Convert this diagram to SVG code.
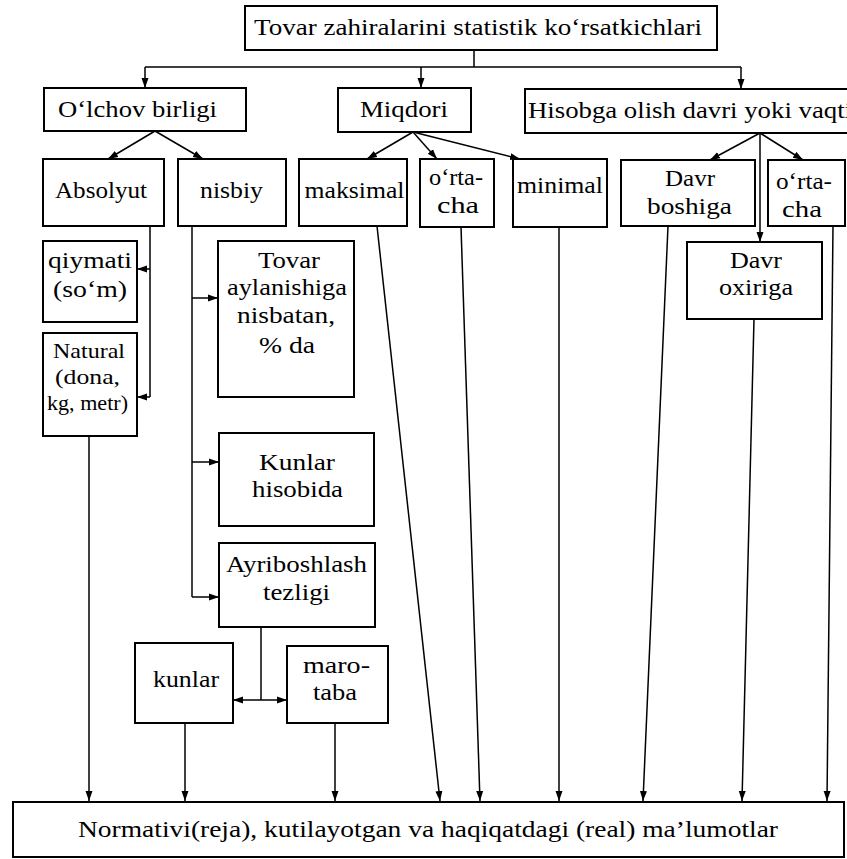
<svg xmlns="http://www.w3.org/2000/svg" width="847" height="859" viewBox="0 0 847 859">
  <defs>
    <marker id="arr" markerUnits="userSpaceOnUse" markerWidth="10" markerHeight="10" viewBox="0 0 10 10" refX="10" refY="5" orient="auto-start-reverse">
      <path d="M0,1.5 L10,5 L0,8.5 Z" fill="#000"/>
    </marker>
  </defs>
  <style>
    .box { fill: #fff; stroke: #000; stroke-width: 2; }
    .t { font-family: "Liberation Serif", "Times New Roman", serif; font-size: 24px; fill: #000; text-anchor: middle; }
    .sm { font-size: 22px; }
    .ln { fill: none; stroke: #000; stroke-width: 1.5; }
    .ar { fill: none; stroke: #000; stroke-width: 1.5; marker-end: url(#arr); }
    .ar2 { fill: none; stroke: #000; stroke-width: 1.5; marker-start: url(#arr); marker-end: url(#arr); }
  </style>
  <rect width="847" height="859" fill="#fff"/>

  <!-- connectors -->
  <g id="connectors">
    <path class="ln" d="M474 50 V67 M145 67 H741"/>
    <path class="ar" d="M145 67 V88"/>
    <path class="ar" d="M421 67 V88"/>
    <path class="ar" d="M741 67 V89"/>

    <path class="ar" d="M155 131 L108 159"/>
    <path class="ar" d="M155 131 L203 159"/>

    <path class="ar" d="M413 132 L367 159"/>
    <path class="ar" d="M413 132 L437 159"/>
    <path class="ar" d="M413 132 L520 159"/>

    <path class="ar" d="M760 133 L710 160"/>
    <path class="ar" d="M760 133 L760 242"/>
    <path class="ar" d="M760 133 L803 160"/>

    <path class="ln" d="M150 226 V397"/>
    <path class="ar" d="M150 269 H137"/>
    <path class="ar" d="M150 397 H137"/>

    <path class="ln" d="M192 226 V597"/>
    <path class="ar" d="M192 298 H218"/>
    <path class="ar" d="M192 462 H219"/>
    <path class="ar" d="M192 597 H219"/>

    <path class="ln" d="M261 627 V700"/>
    <path class="ar2" d="M233 700 H287"/>

    <path class="ar" d="M89 436 V801"/>
    <path class="ar" d="M185 723 V801"/>
    <path class="ar" d="M335 723 V801"/>
    <path class="ar" d="M377 226 L440 801"/>
    <path class="ar" d="M461 227 L480 801"/>
    <path class="ar" d="M559 227 V801"/>
    <path class="ar" d="M668 226 L643 801"/>
    <path class="ar" d="M754 319 L742 801"/>
    <path class="ar" d="M833 226 L827 801"/>
  </g>

  <!-- nodes -->
  <g id="n-top">
    <rect class="box" x="245" y="6" width="472" height="44"/>
    <text class="t" x="478" y="35" font-size="26" textLength="448" lengthAdjust="spacingAndGlyphs">Tovar zahiralarini statistik ko‘rsatkichlari</text>
  </g>
  <g id="n-olchov">
    <rect class="box" x="44" y="88" width="202" height="43"/>
    <text class="t" x="137.5" y="117" textLength="159" lengthAdjust="spacingAndGlyphs">O‘lchov birligi</text>
  </g>
  <g id="n-miqdori">
    <rect class="box" x="338" y="88" width="133" height="44"/>
    <text class="t" x="404" y="117" textLength="88" lengthAdjust="spacingAndGlyphs">Miqdori</text>
  </g>
  <g id="n-hisobga">
    <rect class="box" x="525" y="89" width="340" height="44"/>
    <text class="t" x="528" y="118" style="text-anchor:start" textLength="324" lengthAdjust="spacingAndGlyphs">Hisobga olish davri yoki vaqti</text>
  </g>

  <g id="n-absolyut">
    <rect class="box" x="43" y="159" width="121" height="67"/>
    <text class="t" x="101" y="198" textLength="92" lengthAdjust="spacingAndGlyphs">Absolyut</text>
  </g>
  <g id="n-nisbiy">
    <rect class="box" x="178" y="159" width="108" height="67"/>
    <text class="t" x="231.5" y="198" textLength="63" lengthAdjust="spacingAndGlyphs">nisbiy</text>
  </g>
  <g id="n-maksimal">
    <rect class="box" x="299" y="159" width="108" height="67"/>
    <text class="t" x="354.5" y="198" textLength="100" lengthAdjust="spacingAndGlyphs">maksimal</text>
  </g>
  <g id="n-ortacha1">
    <rect class="box" x="420" y="159" width="74" height="68"/>
    <text class="t" x="456" y="185" textLength="54" lengthAdjust="spacingAndGlyphs">o‘rta-</text>
    <text class="t" x="458" y="213" textLength="42" lengthAdjust="spacingAndGlyphs">cha</text>
  </g>
  <g id="n-minimal">
    <rect class="box" x="513" y="159" width="94" height="68"/>
    <text class="t" x="560" y="193" textLength="86" lengthAdjust="spacingAndGlyphs">minimal</text>
  </g>
  <g id="n-boshiga">
    <rect class="box" x="621" y="160" width="134" height="66"/>
    <text class="t" x="690" y="186" textLength="50" lengthAdjust="spacingAndGlyphs">Davr</text>
    <text class="t" x="689.5" y="214" textLength="85" lengthAdjust="spacingAndGlyphs">boshiga</text>
  </g>
  <g id="n-ortacha2">
    <rect class="box" x="768" y="160" width="77" height="66"/>
    <text class="t" x="804" y="189" textLength="56" lengthAdjust="spacingAndGlyphs">o‘rta-</text>
    <text class="t" x="802" y="217" textLength="40" lengthAdjust="spacingAndGlyphs">cha</text>
  </g>
  <g id="n-oxiriga">
    <rect class="box" x="687" y="242" width="135" height="77"/>
    <text class="t" x="756" y="268" textLength="52" lengthAdjust="spacingAndGlyphs">Davr</text>
    <text class="t" x="756" y="295" textLength="74" lengthAdjust="spacingAndGlyphs">oxiriga</text>
  </g>

  <g id="n-qiymati">
    <rect class="box" x="43" y="241" width="94" height="81"/>
    <text class="t" x="90" y="268" textLength="84" lengthAdjust="spacingAndGlyphs">qiymati</text>
    <text class="t" x="90" y="297" textLength="74" lengthAdjust="spacingAndGlyphs">(so‘m)</text>
  </g>
  <g id="n-natural">
    <rect class="box" x="43" y="333" width="94" height="103"/>
    <text class="t sm" x="89" y="358" textLength="72" lengthAdjust="spacingAndGlyphs">Natural</text>
    <text class="t sm" x="87.5" y="384" textLength="65" lengthAdjust="spacingAndGlyphs">(dona,</text>
    <text class="t sm" x="87.5" y="410" textLength="81" lengthAdjust="spacingAndGlyphs">kg, metr)</text>
  </g>

  <g id="n-tovar">
    <rect class="box" x="218" y="241" width="136" height="156"/>
    <text class="t" x="289" y="268" textLength="62" lengthAdjust="spacingAndGlyphs">Tovar</text>
    <text class="t" x="287" y="295" textLength="120" lengthAdjust="spacingAndGlyphs">aylanishiga</text>
    <text class="t" x="286" y="323" textLength="98" lengthAdjust="spacingAndGlyphs">nisbatan,</text>
    <text class="t" x="287" y="353" textLength="56" lengthAdjust="spacingAndGlyphs">% da</text>
  </g>
  <g id="n-kunlar-hisobida">
    <rect class="box" x="219" y="433" width="155" height="93"/>
    <text class="t" x="297" y="470" textLength="76" lengthAdjust="spacingAndGlyphs">Kunlar</text>
    <text class="t" x="297.5" y="497" textLength="91" lengthAdjust="spacingAndGlyphs">hisobida</text>
  </g>
  <g id="n-ayriboshlash">
    <rect class="box" x="219" y="543" width="156" height="84"/>
    <text class="t" x="296.5" y="572" textLength="141" lengthAdjust="spacingAndGlyphs">Ayriboshlash</text>
    <text class="t" x="296.5" y="600" textLength="67" lengthAdjust="spacingAndGlyphs">tezligi</text>
  </g>
  <g id="n-kunlar">
    <rect class="box" x="135" y="643" width="98" height="80"/>
    <text class="t" x="186" y="687" textLength="66" lengthAdjust="spacingAndGlyphs">kunlar</text>
  </g>
  <g id="n-marotaba">
    <rect class="box" x="287" y="646" width="101" height="77"/>
    <text class="t" x="336.5" y="673" textLength="67" lengthAdjust="spacingAndGlyphs">maro-</text>
    <text class="t" x="335" y="700" textLength="44" lengthAdjust="spacingAndGlyphs">taba</text>
  </g>

  <g id="n-normativi">
    <rect class="box" x="13" y="802" width="831" height="55"/>
    <text class="t" x="428" y="837" textLength="700" lengthAdjust="spacingAndGlyphs">Normativi(reja), kutilayotgan va haqiqatdagi (real) ma’lumotlar</text>
  </g>
</svg>
